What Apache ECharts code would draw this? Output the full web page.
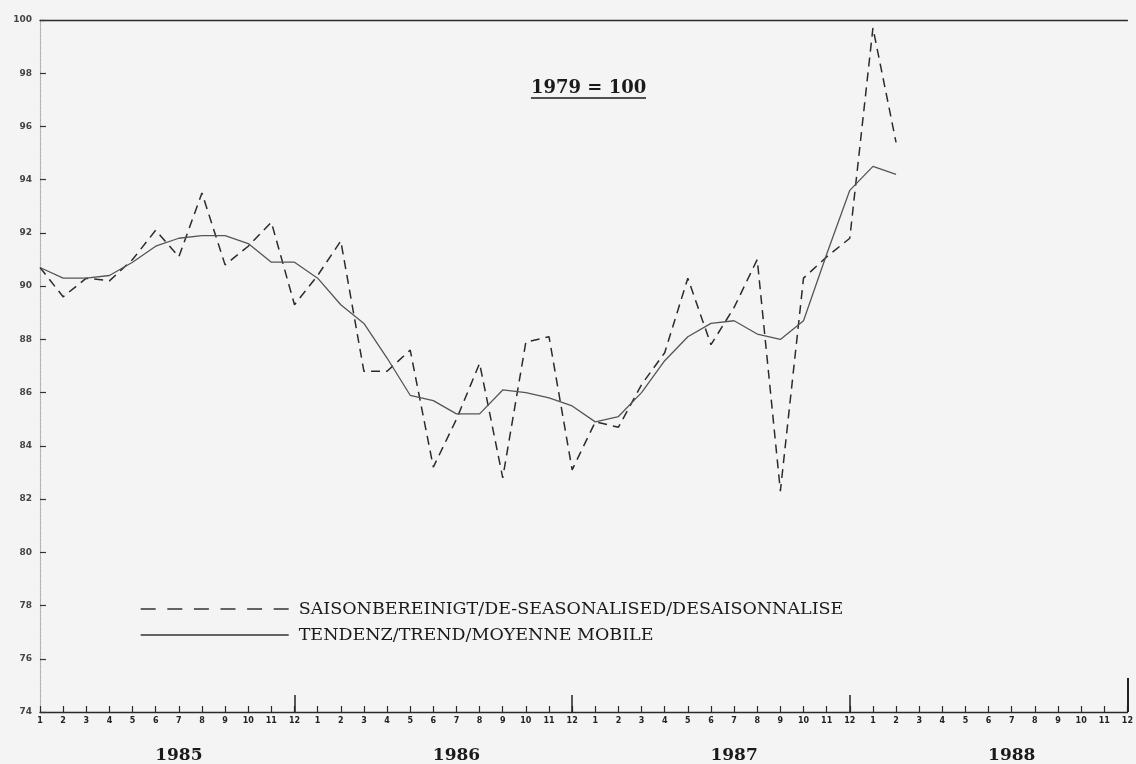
<!DOCTYPE html>
<html>
<head>
<meta charset="utf-8">
<script src="https://cdn.jsdelivr.net/npm/echarts@6/dist/echarts.min.js"></script>
<style>
html,body{margin:0;padding:0;background:#f4f4f4;}
#chart{width:1136px;height:764px;}
</style>
</head>
<body>
<div id="chart"></div>
<script>
const years = ['1985', '1986', '1987', '1988'];
const monthLabels = ['1','2','3','4','5','6','7','8','9','10','11','12'];
const yTicks = { min: 74, max: 100, step: 2 };

// SAISONBEREINIGT / DE-SEASONALISED / DESAISONNALISE  (1985-01 .. 1988-02)
const deseasonalised = [
  90.7, 89.6, 90.3, 90.2, 91.0, 92.1, 91.1, 93.5, 90.8, 91.5, 92.4, 89.3,
  90.4, 91.7, 86.8, 86.8, 87.6, 83.2, 85.0, 87.1, 82.8, 87.9, 88.1, 83.1,
  84.9, 84.7, 86.3, 87.5, 90.3, 87.8, 89.2, 91.0, 82.3, 90.3, 91.1, 91.8,
  99.7, 95.4
];
// TENDENZ / TREND / MOYENNE MOBILE
const trend = [
  90.7, 90.3, 90.3, 90.4, 90.9, 91.5, 91.8, 91.9, 91.9, 91.6, 90.9, 90.9,
  90.3, 89.3, 88.6, 87.3, 85.9, 85.7, 85.2, 85.2, 86.1, 86.0, 85.8, 85.5,
  84.9, 85.1, 86.0, 87.2, 88.1, 88.6, 88.7, 88.2, 88.0, 88.7, 91.2, 93.6,
  94.5, 94.2
];
const seriesNames = [
  'SAISONBEREINIGT/DE-SEASONALISED/DESAISONNALISE',
  'TENDENZ/TREND/MOYENNE MOBILE'
];
const baseLabel = '1979 = 100';

const categories = [];
years.forEach(y => monthLabels.forEach(m => categories.push(y + '-' + m)));
const lastIdx = categories.length - 1;

const serif = 'DejaVu Serif';
const chart = echarts.init(document.getElementById('chart'), null, { renderer: 'canvas' });

const baseX = {
  type: 'category', data: categories, boundaryGap: false, gridIndex: 0,
  position: 'bottom', axisLine: { show: false }, axisTick: { show: false },
  axisLabel: { show: false }, splitLine: { show: false }
};

chart.setOption({
  backgroundColor: '#f4f4f4',
  animation: false,
  color: ['#2b2b2b', '#555555'],
  grid: { left: 40, right: 5, top: 20, bottom: 52, containLabel: false },
  legend: {
    orient: 'vertical', left: 135, top: 595,
    itemWidth: 148, itemHeight: 14, itemGap: 8,
    textStyle: { fontFamily: serif, fontSize: 17.5, lineHeight: 17, color: '#1a1a1a', padding: [0, 0, 0, 5] },
    data: [
      { name: seriesNames[0], itemStyle: { opacity: 0 }, lineStyle: { type: [15, 11.6], width: 1.4, color: '#333' } },
      { name: seriesNames[1], itemStyle: { opacity: 0 }, lineStyle: { type: 'solid', width: 1.4, color: '#333' } }
    ]
  },
  xAxis: [
    Object.assign({}, baseX, {
      axisLine: { show: true, lineStyle: { color: '#2a2a2a', width: 1.3 } },
      axisTick: { show: true, inside: true, length: 6, interval: 0, lineStyle: { color: '#2a2a2a', width: 1.2 } },
      axisLabel: {
        show: true, interval: 0, margin: 5, fontSize: 8, fontWeight: 'bold',
        color: '#222', fontFamily: 'DejaVu Sans',
        formatter: v => v.split('-')[1]
      }
    }),
    Object.assign({}, baseX, {
      axisTick: { show: true, inside: true, length: 17, interval: i => i % 12 === 11 && i !== lastIdx, lineStyle: { color: '#222', width: 1.5 } }
    }),
    Object.assign({}, baseX, {
      axisTick: { show: true, inside: true, length: 34, interval: i => i === lastIdx, lineStyle: { color: '#222', width: 2 } }
    }),
    Object.assign({}, baseX, {
      axisLabel: {
        show: true, margin: 35, fontSize: 17, fontWeight: 'bold', color: '#1a1a1a', fontFamily: serif,
        interval: i => i % 12 === 6,
        formatter: v => v.split('-')[0]
      }
    }),
    Object.assign({}, baseX, {
      position: 'top',
      axisLine: { show: true, lineStyle: { color: '#2a2a2a', width: 1.4 } }
    })
  ],
  yAxis: {
    type: 'value', min: yTicks.min, max: yTicks.max, interval: yTicks.step,
    axisLine: { show: true, lineStyle: { color: '#b0b0b0', type: 'dotted', width: 1.2 } },
    axisTick: { show: true, inside: true, length: 6, lineStyle: { color: '#333', width: 1.2 } },
    axisLabel: { fontSize: 9, fontWeight: 'bold', color: '#444', margin: 8, fontFamily: 'DejaVu Sans' },
    splitLine: { show: false }
  },
  series: [
    {
      name: seriesNames[0], type: 'line', xAxisIndex: 0, data: deseasonalised,
      symbol: 'none', lineStyle: { color: '#2b2b2b', width: 1.5, type: [9, 6] }
    },
    {
      name: seriesNames[1], type: 'line', xAxisIndex: 0, data: trend,
      symbol: 'none', lineStyle: { color: '#555', width: 1.3, type: 'solid' }
    }
  ],
  graphic: [
    {
      type: 'text', left: 531, top: 79,
      style: { text: baseLabel, fontFamily: serif, fontSize: 18, fontWeight: 'bold', fill: '#1a1a1a' }
    },
    {
      type: 'line', shape: { x1: 531, y1: 98, x2: 646, y2: 98 },
      style: { stroke: '#1a1a1a', lineWidth: 1.3 }
    }
  ]
});
</script>
</body>
</html>
